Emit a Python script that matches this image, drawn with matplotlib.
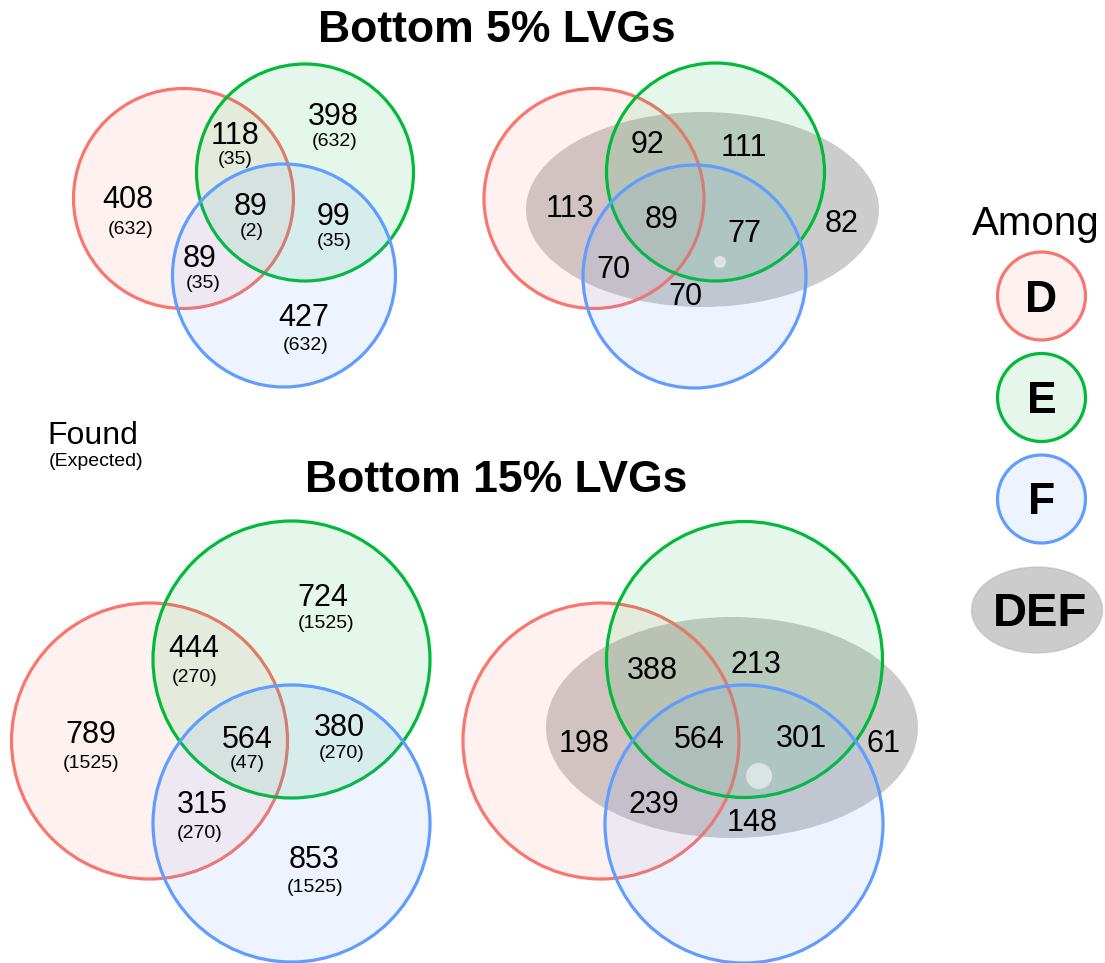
import matplotlib
matplotlib.use("Agg")
import matplotlib.pyplot as plt
from matplotlib.patches import Circle, Ellipse

plt.rcParams['font.family'] = ['Liberation Sans', 'DejaVu Sans']

# ---- data -------------------------------------------------------------
sets = ["D", "E", "F"]
set_colors = ["#F8766D", "#00BA38", "#619CFF"]

# regions: D only, E only, F only, D&E, D&F, E&F, D&E&F
regions = ["D", "E", "F", "DE", "DF", "EF", "DEF"]
found_5 = [408, 398, 427, 118, 89, 99, 89]
expected_5 = [632, 632, 632, 35, 35, 35, 2]
found_15 = [789, 724, 853, 444, 315, 380, 564]
expected_15 = [1525, 1525, 1525, 270, 270, 270, 47]

# genes inside the DEF set, by region (last entry: DEF only)
among_regions = ["D", "E", "F", "DE", "DF", "EF", "DEF", "only"]
among_5 = [113, 111, 70, 92, 70, 77, 89, 82]
among_15 = [198, 213, 148, 388, 239, 301, 564, 61]

titles = ["Bottom 5% LVGs", "Bottom 15% LVGs"]

# ---- layout (pixel coordinates, y downwards) ---------------------------
W, H = 1105, 963
fig = plt.figure(figsize=(W / 100, H / 100), dpi=100)
ax = fig.add_axes([0, 0, 1, 1])
ax.set_xlim(0, W)
ax.set_ylim(H, 0)
ax.axis("off")

LW = 2.3
DIGIT_SHIFT = 3  # digits sit slightly above the text box centre


def draw_circles(centers, radius_list):
    for (cx, cy), r, col in zip(centers, radius_list, set_colors):
        ax.add_patch(Circle((cx, cy), r, facecolor=col, alpha=0.1, edgecolor="none", zorder=2))
        ax.add_patch(Circle((cx, cy), r, facecolor="none", edgecolor=col, lw=LW, zorder=2))


def draw_found(centers, radii, found, expected, pos, pos_exp, big=22, small=14):
    draw_circles(centers, radii)
    for f, (x, y) in zip(found, pos):
        ax.text(x, y + DIGIT_SHIFT, str(f), fontsize=big, ha="center", va="center", zorder=5)
    for e, (x, y) in zip(expected, pos_exp):
        ax.text(x, y, f"({e})", fontsize=small, ha="center", va="center", zorder=5)


def draw_among(centers, radii, ell, dot, vals, pos, big=22):
    (ex, ey, ew, eh) = ell
    ax.add_patch(Ellipse((ex, ey), ew, eh, facecolor="#9a9a9a", alpha=0.5,
                         edgecolor="none", zorder=1))
    draw_circles(centers, radii)
    dx, dy, dr = dot
    ax.add_patch(Circle((dx, dy), dr, facecolor="white", alpha=0.55, edgecolor="none", zorder=3))
    for v, (x, y) in zip(vals, pos):
        ax.text(x, y + DIGIT_SHIFT, str(v), fontsize=big, ha="center", va="center", zorder=5)


# top row
draw_found(
    centers=[(183.5, 198.5), (305, 172.5), (284, 275.5)],
    radii=[110, 108.5, 111.5],
    found=found_5, expected=expected_5,
    pos=[(128, 197), (333, 114), (304, 315), (235, 133), (200, 256), (333, 214), (251, 204)],
    pos_exp=[(131, 230), (335, 142), (306, 345), (235, 159), (203, 284), (334, 242), (252, 232)],
)
draw_among(
    centers=[(594, 198.5), (715.5, 172), (694.5, 276.5)],
    radii=[110, 109, 111.5],
    ell=(702.5, 209.5, 353, 195),
    dot=(720, 262, 6),
    vals=among_5,
    pos=[(570, 206), (744, 145), (685, 294), (648, 142), (613, 267), (744, 231), (662, 217), (842, 221)],
)

# bottom row
draw_found(
    centers=[(149.5, 741), (291.5, 659.5), (291.5, 823.5)],
    radii=[138, 138.5, 138.5],
    found=found_15, expected=expected_15,
    pos=[(91, 732), (323, 595), (314, 857), (194, 646), (202, 802), (339, 725), (247, 737)],
    pos_exp=[(91, 763), (326, 623), (315, 888), (195, 677), (200, 833), (342, 753), (247, 764)],
)
draw_among(
    centers=[(601, 741), (744.5, 659.5), (744, 824)],
    radii=[138, 138, 139],
    ell=(732, 727.5, 372, 221),
    dot=(759, 776, 13),
    vals=among_15,
    pos=[(584, 741), (756, 662), (752, 820), (652, 668), (654, 802), (801, 736), (699, 737), (884, 741)],
)

# titles
ax.text(497, 30, titles[0], fontsize=32, fontweight="bold", ha="center", va="center")
ax.text(496, 480, titles[1], fontsize=32, fontweight="bold", ha="center", va="center")

# Found / Expected key
ax.text(93, 436, "Found", fontsize=23, ha="center", va="center")
ax.text(96, 461, "(Expected)", fontsize=14, ha="center", va="center")

# "Among" key
ax.text(1036, 224, "Among", fontsize=29, ha="center", va="center")
key_y = [296, 397.5, 499]
for name, col, y in zip(sets, set_colors, key_y):
    ax.add_patch(Circle((1041.5, y), 44, facecolor=col, alpha=0.1, edgecolor="none"))
    ax.add_patch(Circle((1041.5, y), 44, facecolor="none", edgecolor=col, lw=LW))
    ax.text(1041.5, y + 4, name, fontsize=32, fontweight="bold", ha="center", va="center")
ax.add_patch(Ellipse((1037, 610), 131, 86, facecolor="#9a9a9a", alpha=0.5,
                     edgecolor="#b0b0b0", lw=1))
ax.text(1040, 614, "DEF", fontsize=34, fontweight="bold", ha="center", va="center")

fig.savefig("out.png", dpi=100)
